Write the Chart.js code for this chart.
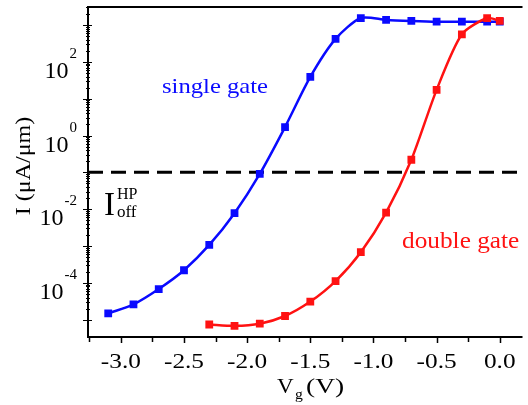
<!DOCTYPE html>
<html>
<head>
<meta charset="utf-8">
<script src="https://cdn.jsdelivr.net/npm/chart.js@4.4.1/dist/chart.umd.min.js"></script>
<style>
  html, body { margin: 0; padding: 0; background: #fff; }
  canvas { display: block; }
</style>
</head>
<body>
<canvas id="chart" width="528" height="405"></canvas>
<script>
// ==========================================
// DATA
// ==========================================

// single gate: gate voltage (V) and drain current (uA/um)
const single_vg = [-3.1, -2.9, -2.7, -2.5, -2.3, -2.1, -1.9, -1.7, -1.5, -1.3, -1.1, -0.9, -0.7, -0.5, -0.3, -0.1, 0.0];
const single_current = [1.48e-5, 2.6e-5, 6.8e-5, 2.2e-4, 1.07e-3, 7.8e-3, 9.1e-2, 1.7, 39, 420, 1550, 1380, 1290, 1230, 1230, 1230, 1230];

// double gate
const double_vg = [-2.3, -2.1, -1.9, -1.7, -1.5, -1.3, -1.1, -0.9, -0.7, -0.5, -0.3, -0.1, 0.0];
const double_current = [7.4e-6, 6.8e-6, 7.8e-6, 1.26e-5, 3.1e-5, 1.12e-4, 6.8e-4, 8.1e-3, 0.22, 17.4, 560, 1550, 1290];

// HP off-current level (dashed line)
const ioff_hp = 0.1;

// axis ticks
const x_major = [-3.0, -2.5, -2.0, -1.5, -1.0, -0.5, 0.0];
const x_minor = [-3.25, -2.75, -2.25, -1.75, -1.25, -0.75, -0.25];
const y_decades = [-5, -4, -3, -2, -1, 0, 1, 2, 3];
const y_labelled = [-4, -2, 0, 2];

const X_MIN = -3.26, X_MAX = 0.18;
const Y_MIN = Math.pow(10, -5.47), Y_MAX = Math.pow(10, 3.49);

const BLUE = '#0a0aff';
const RED = '#ff1212';
const SERIF = '"Liberation Serif", "Times New Roman", serif';

function toPoints(xs, ys) {
    return xs.map((x, i) => ({ x: x, y: ys[i] }));
}

function txt(ctx, s, x, y, size, color, align, sx) {
    ctx.save();
    ctx.font = size + 'px ' + SERIF;
    ctx.fillStyle = color;
    ctx.textBaseline = 'alphabetic';
    ctx.textAlign = align || 'left';
    ctx.translate(x, y);
    ctx.scale(sx || 1, 1);
    ctx.fillText(s, 0, 0);
    ctx.restore();
}

function textWidth(ctx, s, size, sx) {
    ctx.save();
    ctx.font = size + 'px ' + SERIF;
    const w = ctx.measureText(s).width * (sx || 1);
    ctx.restore();
    return w;
}

// ==========================================
// FRAME, TICKS AND LABELS
// ==========================================
const framePlugin = {
    id: 'frame',
    afterDraw(chart) {
        const ctx = chart.ctx;
        const a = chart.chartArea;
        const xs = chart.scales.x;
        const ys = chart.scales.y;

        ctx.save();
        ctx.strokeStyle = '#000';
        ctx.lineWidth = 2;
        ctx.beginPath();
        ctx.moveTo(a.right, a.top);
        ctx.lineTo(a.left, a.top);
        ctx.lineTo(a.left, a.bottom);
        ctx.lineTo(a.right, a.bottom);
        ctx.stroke();

        // x ticks
        ctx.lineWidth = 1.5;
        ctx.beginPath();
        x_major.forEach(v => {
            const px = Math.round(xs.getPixelForValue(v)) + 0.5;
            ctx.moveTo(px, a.bottom);
            ctx.lineTo(px, a.bottom + 6);
        });
        x_minor.forEach(v => {
            const px = Math.round(xs.getPixelForValue(v)) + 0.5;
            ctx.moveTo(px, a.bottom);
            ctx.lineTo(px, a.bottom + 5);
        });
        ctx.stroke();

        // y ticks (log)
        ctx.lineWidth = 1;
        ctx.beginPath();
        y_decades.forEach(d => {
            for (let m = 1; m <= 9; m++) {
                const v = m * Math.pow(10, d);
                if (v < Y_MIN || v > Y_MAX) continue;
                const py = Math.round(ys.getPixelForValue(v)) + 0.5;
                if (m === 1) {
                    ctx.moveTo(a.left - 5, py);
                    ctx.lineTo(a.left + 4, py);
                } else {
                    ctx.moveTo(a.left - 2, py);
                    ctx.lineTo(a.left + 2, py);
                }
            }
        });
        ctx.stroke();
        ctx.restore();

        // x tick labels
        x_major.forEach(v => {
            txt(ctx, v.toFixed(1), xs.getPixelForValue(v), a.bottom + 31, 22, '#000', 'center', 1.15);
        });

        // y tick labels: 10^n
        y_labelled.forEach(d => {
            const py = ys.getPixelForValue(Math.pow(10, d));
            const exp = String(d);
            const right = a.left - 11;
            txt(ctx, exp, right, py - 4, 15, '#000', 'right', 1);
            const ew = textWidth(ctx, exp, 15, 1);
            txt(ctx, '10', right - ew - 1, py + 16, 24, '#000', 'right', 1);
        });

        // axis titles
        txt(ctx, 'V', 277, 393, 22, '#000', 'left', 1.05);
        txt(ctx, 'g', 295, 399, 15, '#000', 'left', 1.05);
        txt(ctx, '(V)', 306, 393, 22, '#000', 'left', 1.25);

        ctx.save();
        ctx.translate(30, 166);
        ctx.rotate(-Math.PI / 2);
        txt(ctx, 'I (\u03bcA/\u03bcm)', 0, 0, 22, '#000', 'center', 1.09);
        ctx.restore();

        // annotations
        txt(ctx, 'single gate', 162, 93, 22, BLUE, 'left', 1.12);
        txt(ctx, 'double gate', 402, 248, 23, RED, 'left', 1.1);
        txt(ctx, 'I', 104, 215, 33, '#000', 'left', 1);
        txt(ctx, 'HP', 117, 199, 16, '#000', 'left', 1);
        txt(ctx, 'off', 117, 217, 17, '#000', 'left', 1);
    }
};

// ==========================================
// CHART
// ==========================================
new Chart(document.getElementById('chart'), {
    type: 'line',
    data: {
        datasets: [
            {
                label: 'double gate',
                data: toPoints(double_vg, double_current),
                borderColor: RED,
                backgroundColor: RED,
                borderWidth: 2.5,
                pointStyle: 'rect',
                pointRadius: 5.5,
                pointBorderWidth: 0,
                tension: 0.25
            },
            {
                label: 'single gate',
                data: toPoints(single_vg, single_current),
                borderColor: BLUE,
                backgroundColor: BLUE,
                borderWidth: 2.5,
                pointStyle: 'rect',
                pointRadius: 5.5,
                pointBorderWidth: 0,
                tension: 0.25
            },
            {
                label: 'Ioff HP',
                data: [{ x: X_MIN, y: ioff_hp }, { x: X_MAX, y: ioff_hp }],
                borderColor: '#000',
                borderWidth: 3,
                borderDash: [15, 8],
                pointRadius: 0,
                tension: 0
            }
        ]
    },
    options: {
        responsive: false,
        animation: false,
        devicePixelRatio: 1,
        layout: { padding: { left: 88, top: 7, right: 0, bottom: 68 } },
        plugins: { legend: { display: false }, tooltip: { enabled: false } },
        scales: {
            x: { type: 'linear', min: X_MIN, max: X_MAX, display: false },
            y: { type: 'logarithmic', min: Y_MIN, max: Y_MAX, display: false }
        }
    },
    plugins: [framePlugin]
});
</script>
</body>
</html>
